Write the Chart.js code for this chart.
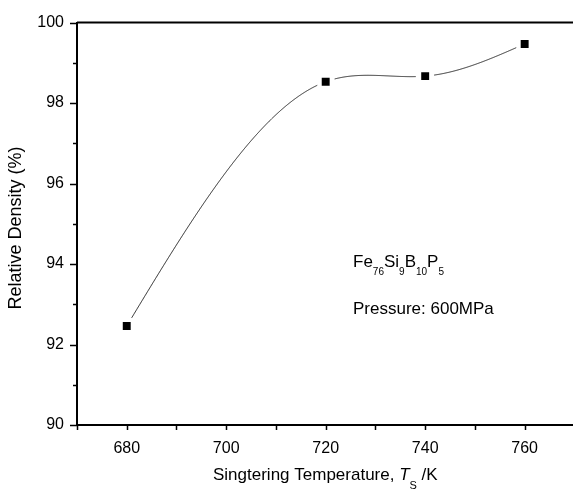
<!DOCTYPE html>
<html>
<head>
<meta charset="utf-8">
<script src="https://cdn.jsdelivr.net/npm/chart.js@4.4.1/dist/chart.umd.min.js"></script>
<style>
  html, body { margin: 0; padding: 0; background: #fff; overflow: hidden; }
  #wrap { width: 580px; height: 493px; }
</style>
</head>
<body>
<div id="wrap"><canvas id="densityChart" width="580" height="493"></canvas></div>
<script>
// sintering temperature (K) vs relative density (%)
const temperatures = [680, 720, 740, 760];
const densities = [92.46, 98.53, 98.67, 99.47];

const xMajorTicks = [680, 700, 720, 740, 760];
const yMajorTicks = [90, 92, 94, 96, 98, 100];

const FONT = "Arial, 'Liberation Sans', sans-serif";

// natural cubic spline through the data, like the smoothed line in the figure
function naturalSpline(xs, ys) {
  const n = xs.length;
  const h = [];
  for (let i = 0; i < n - 1; i++) h.push(xs[i + 1] - xs[i]);
  const a = new Array(n).fill(0), b = new Array(n).fill(1), c = new Array(n).fill(0), d = new Array(n).fill(0);
  for (let i = 1; i < n - 1; i++) {
    a[i] = h[i - 1];
    b[i] = 2 * (h[i - 1] + h[i]);
    c[i] = h[i];
    d[i] = 6 * ((ys[i + 1] - ys[i]) / h[i] - (ys[i] - ys[i - 1]) / h[i - 1]);
  }
  // thomas algorithm
  for (let i = 1; i < n; i++) {
    const m = a[i] / b[i - 1];
    b[i] -= m * c[i - 1];
    d[i] -= m * d[i - 1];
  }
  const M = new Array(n).fill(0);
  M[n - 1] = d[n - 1] / b[n - 1];
  for (let i = n - 2; i >= 0; i--) M[i] = (d[i] - c[i] * M[i + 1]) / b[i];

  return function (x) {
    let i = 0;
    while (i < n - 2 && x > xs[i + 1]) i++;
    const t1 = xs[i + 1] - x, t0 = x - xs[i], hi = h[i];
    return M[i] * t1 * t1 * t1 / (6 * hi) + M[i + 1] * t0 * t0 * t0 / (6 * hi)
      + (ys[i] / hi - M[i] * hi / 6) * t1 + (ys[i + 1] / hi - M[i + 1] * hi / 6) * t0;
  };
}

const splinePlugin = {
  id: "splineLine",
  beforeDatasetsDraw(chart) {
    const ctx = chart.ctx;
    const xs = chart.scales.x, ys = chart.scales.y;
    const f = naturalSpline(temperatures, densities);
    const marks = temperatures.map((t, i) => [xs.getPixelForValue(t), ys.getPixelForValue(densities[i])]);
    ctx.save();
    ctx.strokeStyle = "#222";
    ctx.lineWidth = 1;
    ctx.beginPath();
    let pen = false;
    const x0 = temperatures[0], x1 = temperatures[temperatures.length - 1];
    for (let k = 0; k <= 800; k++) {
      const t = x0 + (x1 - x0) * k / 800;
      const px = xs.getPixelForValue(t), py = ys.getPixelForValue(f(t));
      const near = marks.some(m => Math.hypot(m[0] - px, m[1] - py) < 9);
      if (near) { pen = false; continue; }
      if (!pen) { ctx.moveTo(px, py); pen = true; } else ctx.lineTo(px, py);
    }
    ctx.stroke();
    ctx.restore();
  }
};

function drawRuns(ctx, runs, x, baseline) {
  runs.forEach(r => {
    ctx.font = r.font;
    ctx.fillText(r.text, x, baseline + (r.dy || 0));
    x += ctx.measureText(r.text).width;
  });
}

const decorPlugin = {
  id: "decor",
  afterDraw(chart) {
    const ctx = chart.ctx;
    const area = chart.chartArea;
    const xs = chart.scales.x, ys = chart.scales.y;
    ctx.save();
    ctx.strokeStyle = "#000";
    ctx.fillStyle = "#000";

    // top and right frame
    ctx.lineWidth = 2;
    ctx.beginPath();
    ctx.moveTo(area.left, area.top);
    ctx.lineTo(area.right, area.top);
    ctx.lineTo(area.right, area.bottom);
    ctx.stroke();

    // tick marks, major and minor
    ctx.lineWidth = 1.5;
    ctx.beginPath();
    for (let v = 670; v <= 770; v += 10) {
      const px = Math.round(xs.getPixelForValue(v)) + 0.5;
      ctx.moveTo(px, area.bottom);
      ctx.lineTo(px, area.bottom + 5);
    }
    for (let v = 90; v <= 100; v += 1) {
      const py = Math.round(ys.getPixelForValue(v)) + 0.5;
      const len = v % 2 === 0 ? 7 : 4;
      ctx.moveTo(area.left, py);
      ctx.lineTo(area.left - len, py);
    }
    ctx.stroke();

    // x axis title
    ctx.textAlign = "left";
    ctx.textBaseline = "alphabetic";
    drawRuns(ctx, [
      { text: "Singtering Temperature, ", font: "17px " + FONT },
      { text: "T", font: "italic 17px " + FONT },
      { text: "S", font: "11px " + FONT, dy: 9 },
      { text: " /K", font: "17px " + FONT }
    ], 213, 480);

    // y axis title
    ctx.save();
    ctx.translate(21, 228);
    ctx.rotate(-Math.PI / 2);
    ctx.font = "18px " + FONT;
    ctx.textAlign = "center";
    ctx.textBaseline = "alphabetic";
    ctx.fillText("Relative Density (%)", 0, 0);
    ctx.restore();

    // annotations
    drawRuns(ctx, [
      { text: "Fe", font: "17px " + FONT },
      { text: "76", font: "10px " + FONT, dy: 8 },
      { text: "Si", font: "17px " + FONT },
      { text: "9", font: "10px " + FONT, dy: 8 },
      { text: "B", font: "17px " + FONT },
      { text: "10", font: "10px " + FONT, dy: 8 },
      { text: "P", font: "17px " + FONT },
      { text: "5", font: "10px " + FONT, dy: 8 }
    ], 353, 267);
    drawRuns(ctx, [{ text: "Pressure: 600MPa", font: "17px " + FONT }], 353, 314);

    ctx.restore();
  }
};

new Chart(document.getElementById("densityChart"), {
  type: "scatter",
  data: {
    datasets: [{
      data: temperatures.map((t, i) => ({ x: t, y: densities[i] })),
      pointStyle: "rect",
      pointRadius: 5.6,
      pointBorderWidth: 0,
      backgroundColor: "#000",
      borderColor: "#000",
      showLine: false
    }]
  },
  options: {
    responsive: false,
    animation: false,
    events: [],
    layout: { padding: { top: 18, right: 4, left: 0, bottom: 0 } },
    plugins: { legend: { display: false }, tooltip: { enabled: false } },
    scales: {
      x: {
        type: "linear",
        min: 670,
        max: 770,
        afterFit: s => { s.height = 68; },
        afterBuildTicks: s => { s.ticks = xMajorTicks.map(v => ({ value: v })); },
        grid: { display: false, drawTicks: false },
        border: { display: true, color: "#000", width: 2 },
        ticks: { color: "#000", font: { family: FONT, size: 16 }, padding: 14, maxRotation: 0 }
      },
      y: {
        min: 90,
        max: 100,
        afterFit: s => { s.width = 77; },
        afterBuildTicks: s => { s.ticks = yMajorTicks.map(v => ({ value: v })); },
        grid: { display: false, drawTicks: false },
        border: { display: true, color: "#000", width: 2 },
        ticks: { color: "#000", font: { family: FONT, size: 16 }, padding: 13 }
      }
    }
  },
  plugins: [splinePlugin, decorPlugin]
});
</script>
</body>
</html>
